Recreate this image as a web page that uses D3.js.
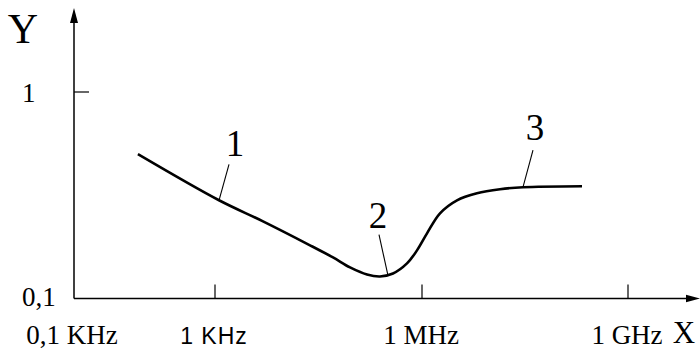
<!DOCTYPE html>
<html><head><meta charset="utf-8">
<script src="https://cdn.jsdelivr.net/npm/d3@7"></script>
<style>body{margin:0;background:#fff}svg{display:block}</style>
</head><body>
<svg id="c" width="700" height="351"></svg>
<script>
// Data (frequency in Hz, Y value)
const freqs = [284, 1143, 4963, 23820, 51300, 90500, 159600, 246300, 379900, 606000, 846000, 1.183e6, 1.829e6, 3.234e6, 6.32e6, 1.368e7, 2.957e7, 2.138e8];
const yVals = [0.500, 0.299, 0.2364, 0.181, 0.158, 0.1414, 0.1307, 0.1279, 0.1322, 0.1479, 0.171, 0.2068, 0.2586, 0.299, 0.3234, 0.3382, 0.3459, 0.3498];
const xTickVals = [100, 1e3, 1e6, 1e9];
const xTickLabels = ["0,1 KHz", "1 KHz", "1 MHz", "1 GHz"];
const yTickVals = [0.1, 1];
const yTickLabels = ["0,1", "1"];
const annLabels = ["1", "2", "3"];
const annFreqs = [1143, 321600, 2.957e7];
const annY = [0.299, 0.1290, 0.3459];

const svg = d3.select("#c");
const x = d3.scaleLog().domain(xTickVals).range([74, 215, 422, 628]);
const y = d3.scaleLog().domain([0.1, 1]).range([298.5, 92]);
const serif = "'Liberation Serif', 'Times New Roman', serif";

// axes
const x0 = x(100), y0 = y(0.1);
svg.append("line").attr("x1", x0).attr("x2", x0).attr("y1", y0).attr("y2", 20)
  .attr("stroke", "#000").attr("stroke-width", 1.5);
svg.append("path").attr("d", `M${x0},8 L${x0-4},23 L${x0+4},23 Z`).attr("fill", "#000");
svg.append("line").attr("x1", x0).attr("x2", 690).attr("y1", y0).attr("y2", y0)
  .attr("stroke", "#000").attr("stroke-width", 1.5);
svg.append("path").attr("d", `M700,${y0} L686,${y0-3.8} L686,${y0+3.8} Z`).attr("fill", "#000");

// x ticks
xTickVals.forEach((v, i) => {
  if (i > 0) svg.append("line").attr("x1", x(v)).attr("x2", x(v)).attr("y1", y0).attr("y2", y0 - 14)
    .attr("stroke", "#000").attr("stroke-width", 1.2);
  const t = svg.append("text").attr("x", x(v) + (i === 0 ? -2 : -1)).attr("y", 344)
    .attr("text-anchor", "middle").text(xTickLabels[i]);
  if (i === 1) t.attr("font-family", "'Liberation Sans', Arial, sans-serif").attr("font-size", 23).attr("letter-spacing", 1);
  else t.attr("font-family", serif).attr("font-size", 27);
});
// y ticks
yTickVals.forEach((v, i) => {
  if (v !== 0.1) svg.append("line").attr("x1", x0).attr("x2", x0 + 15).attr("y1", y(v)).attr("y2", y(v))
    .attr("stroke", "#000").attr("stroke-width", 1.2);
  svg.append("text").attr("x", 22).attr("y", y(v) + (v === 0.1 ? 7 : 10))
    .attr("font-family", serif).attr("font-size", 27).text(yTickLabels[i]);
});
// axis titles
svg.append("text").attr("x", 23).attr("y", 43).attr("text-anchor", "middle")
  .attr("font-family", serif).attr("font-size", 42).text("Y");
svg.append("text").attr("x", 684).attr("y", 343).attr("text-anchor", "middle")
  .attr("font-family", serif).attr("font-size", 31).text("X");

// curve
const pts = freqs.map((f, i) => [f, yVals[i]]);
svg.append("path").datum(pts)
  .attr("d", d3.line().x(d => x(d[0])).y(d => y(d[1])).curve(d3.curveCatmullRom.alpha(0.5)))
  .attr("fill", "none").attr("stroke", "#000").attr("stroke-width", 2.6);

// annotations
const offs = [[10, -36, 16, -44], [-9, -41, -10, -48], [10, -37, 12, -47]];
annLabels.forEach((lab, i) => {
  const ax = x(annFreqs[i]), ay = y(annY[i]);
  svg.append("line").attr("x1", ax).attr("y1", ay).attr("x2", ax + offs[i][0]).attr("y2", ay + offs[i][1])
    .attr("stroke", "#000").attr("stroke-width", 1.1);
  svg.append("text").attr("x", ax + offs[i][2]).attr("y", ay + offs[i][3]).attr("text-anchor", "middle")
    .attr("font-family", serif).attr("font-size", 37).text(lab);
});
</script>
</body></html>
